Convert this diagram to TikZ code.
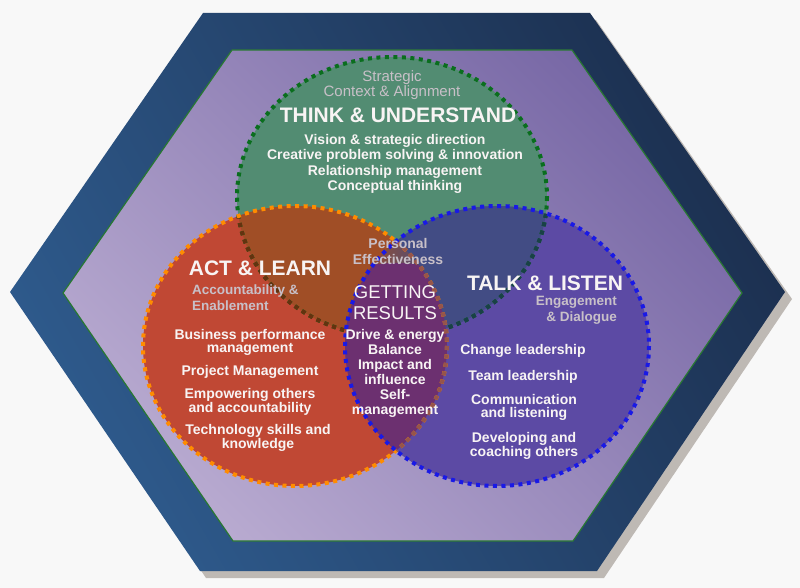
\documentclass[tikz,border=0pt]{standalone}
\usepackage{fontspec}
\setmainfont{Liberation Sans}
\usetikzlibrary{shapes.geometric,positioning}

\definecolor{paper}{RGB}{248,248,248}
\definecolor{frameshadow}{RGB}{190,185,180}
\definecolor{frameblue}{RGB}{46,90,140}
\definecolor{framenavy}{RGB}{28,48,80}
\definecolor{innerrim}{RGB}{40,120,50}
\definecolor{lavlight}{RGB}{184,170,208}
\definecolor{lavdark}{RGB}{120,104,166}
\definecolor{thinkgreen}{RGB}{82,140,114}
\definecolor{actred}{RGB}{192,72,52}
\definecolor{talkblue}{RGB}{92,74,164}
\definecolor{actbrown}{RGB}{160,78,38}
\definecolor{talkslate}{RGB}{66,76,132}
\definecolor{lenspurple}{RGB}{108,48,112}
\definecolor{thinkrim}{RGB}{10,110,30}
\definecolor{thinkrimA}{RGB}{100,50,15}
\definecolor{thinkrimB}{RGB}{25,65,70}
\definecolor{actrim}{RGB}{255,140,0}
\definecolor{actrimmuted}{RGB}{150,85,75}
\definecolor{talkrim}{RGB}{25,25,230}
\definecolor{textwhite}{RGB}{248,244,244}
\definecolor{textgrey}{RGB}{200,192,200}

\tikzstyle{rim} = [line width=4pt, dash pattern=on 4pt off 4.5pt]
\tikzstyle{title} = [inner sep=0pt, text=textwhite, font=\fontsize{21}{22}\selectfont\bfseries]
\tikzstyle{subtitle} = [inner sep=0pt, text=textgrey, font=\fontsize{13.5}{16}\selectfont\bfseries]
\tikzstyle{item} = [inner sep=0pt, text=textwhite, align=center, font=\fontsize{14}{12.5}\selectfont\bfseries]
\tikzstyle{itemlist} = [inner sep=0pt, text=textwhite, align=center, font=\fontsize{14}{15.2}\selectfont\bfseries]

\newcommand{\thinkshape}{(392,197) ellipse [x radius=155, y radius=140]}
\newcommand{\actshape}{(295,346) ellipse [x radius=152, y radius=140]}
\newcommand{\talkshape}{(497,346) ellipse [x radius=152, y radius=140]}

\begin{document}
\begin{tikzpicture}[x=1pt,y=-1pt]
\useasboundingbox (0,0) rectangle (800,588);
\fill[paper] (0,0) rectangle (800,588);

% hexagon frame
\fill[frameshadow] (209,20) -- (596,20) -- (792,299) -- (604,578) -- (206,578) -- (16,299) -- cycle;
\shade[left color=frameblue, right color=framenavy, shading angle=120] (203,13) -- (590,13) -- (785,292) -- (597,571) -- (200,571) -- (10,292) -- cycle;
\shade[left color=lavlight, right color=lavdark, shading angle=135] (232,50) -- (572,50) -- (742,293) -- (573,541) -- (233,541) -- (63,293) -- cycle;
\draw[innerrim, line width=1.2pt] (232,50) -- (572,50) -- (742,293) -- (573,541) -- (233,541) -- (63,293) -- cycle;

% circle fills
\fill[thinkgreen] \thinkshape;
\fill[actred] \actshape;
\fill[talkblue] \talkshape;
\begin{scope}
  \clip \thinkshape;
  \fill[actbrown] \actshape;
  \fill[talkslate] \talkshape;
  \begin{scope}
    \clip \actshape;
    \clip \talkshape;
    \shade[left color=actbrown, right color=talkslate] (360,200) rectangle (435,340);
  \end{scope}
\end{scope}

% green rim
\draw[rim, thinkrim] \thinkshape;
\begin{scope}
  \clip \actshape;
  \draw[rim, thinkrimA] \thinkshape;
\end{scope}
\begin{scope}
  \clip \talkshape;
  \draw[rim, thinkrimB] \thinkshape;
\end{scope}

% getting results lens
\begin{scope}
  \clip \actshape;
  \clip \talkshape;
  \clip (396,413) circle (150);
  \fill[lenspurple] \talkshape;
\end{scope}

% orange and blue rims
\draw[rim, actrim] \actshape;
\begin{scope}
  \clip \talkshape;
  \draw[rim, actrimmuted] \actshape;
\end{scope}
\draw[rim, talkrim] \talkshape;

% think & understand
\node (thinkctx) [inner sep=0pt, text=textgrey, align=center, font=\fontsize{15}{13}\selectfont] at (392,85) {Strategic\\Context \& Alignment};
\node (think) [title] at (398,115) {THINK \& UNDERSTAND};
\node (thinklist) [itemlist] at (395,164) {Vision \& strategic direction\\Creative problem solving \& innovation\\Relationship management\\Conceptual thinking};

% act & learn
\node (act) [title] at (260,268) {ACT \& LEARN};
\node (actctx) [subtitle, anchor=west, align=left] at (192,297.5) {Accountability \&\\Enablement};
\node (act1) [item] at (250,342.5) {Business performance\\management};
\node (act2) [item] at (250,372) {Project Management};
\node (act3) [item] at (250,401.5) {Empowering others\\and accountability};
\node (act4) [item] at (258,437.5) {Technology skills and\\knowledge};

% talk & listen
\node (talk) [title] at (545,283) {TALK \& LISTEN};
\node (talkctx) [subtitle, anchor=east, align=right] at (617,310) {Engagement\\\& Dialogue};
\node (talk1) [item] at (523,351) {Change leadership};
\node (talk2) [item] at (523,377) {Team leadership};
\node (talk3) [item] at (524,407.5) {Communication\\and listening};
\node (talk4) [item] at (524,445.5) {Developing and\\coaching others};

% getting results
\node (personal) [subtitle, align=center, font=\fontsize{14}{16}\selectfont\bfseries] at (398,251) {Personal\\Effectiveness};
\node (results) [inner sep=0pt, text=textwhite, align=center, font=\fontsize{18.5}{21}\selectfont] at (395,302.5) {GETTING\\RESULTS};
\node (resultslist) [itemlist, font=\fontsize{14}{15}\selectfont\bfseries] at (395,373.5) {Drive \& energy\\Balance\\Impact and\\influence\\Self-\\management};
\end{tikzpicture}
\end{document}
